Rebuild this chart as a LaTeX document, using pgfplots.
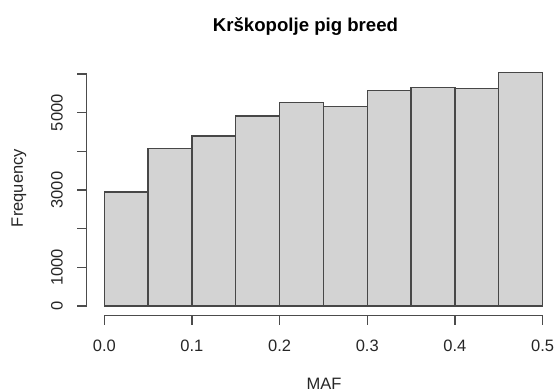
\documentclass[border=0pt]{standalone}
\usepackage{fontspec}
\setmainfont{Liberation Sans}
\usepackage{pgfplots}
\pgfplotsset{compat=1.18}
\definecolor{rlightgray}{HTML}{D3D3D3}
\begin{document}
\begin{tikzpicture}
\begin{axis}[
  scale only axis, width=236.68pt, height=125.99pt,
  xmin=-0.02, xmax=0.52, ymin=-241, ymax=6275,
  axis line style={draw=none},
  tick pos=left,
  tick align=outside,
  major tick length=4.75pt,
  tick style={black!70, line width=0.6pt},
  xtick={0,0.1,0.2,0.3,0.4,0.5},
  xticklabels={0.0,0.1,0.2,0.3,0.4,0.5},
  ytick={0,1000,2000,3000,4000,5000,6000},
  yticklabels={0,1000,{},3000,{},5000,{}},
  ticklabel style={font=\fontsize{8.25}{10}\selectfont, text=black!85},
  xticklabel style={anchor=north, inner sep=0pt},
  yticklabel style={rotate=90, anchor=south, inner sep=0pt},
  xticklabel shift=7.25pt,
  yticklabel shift=7pt,
  clip=false,
]
\addplot[ybar interval, fill=rlightgray, draw=black!72, line width=0.7pt] coordinates {
  (0,2948) (0.05,4069) (0.1,4396) (0.15,4913) (0.2,5267) (0.25,5155)
  (0.3,5568) (0.35,5655) (0.4,5629) (0.45,6034) (0.5,6034)
};
\draw[black!70, line width=0.6pt] (axis cs:0,-241) -- (axis cs:0.5,-241);
\draw[black!70, line width=0.6pt] (axis cs:-0.02,0) -- (axis cs:-0.02,6000);
\node[font=\fontsize{9.3}{11}\selectfont\bfseries] at (axis cs:0.2295,7240) {Krškopolje pig breed};
\node[font=\fontsize{8.25}{10}\selectfont, text=black!85] at (axis cs:0.2506,-2000) {MAF};
\node[rotate=90, font=\fontsize{8.25}{10}\selectfont, text=black!85] at (axis cs:-0.0973,3051) {Frequency};
\coordinate (BL) at (axis cs:-0.11898,-2198);
\coordinate (TR) at (axis cs:0.51300,7913);
\end{axis}
\pgfresetboundingbox
\path[use as bounding box] (BL) rectangle (TR);
\end{tikzpicture}
\end{document}
